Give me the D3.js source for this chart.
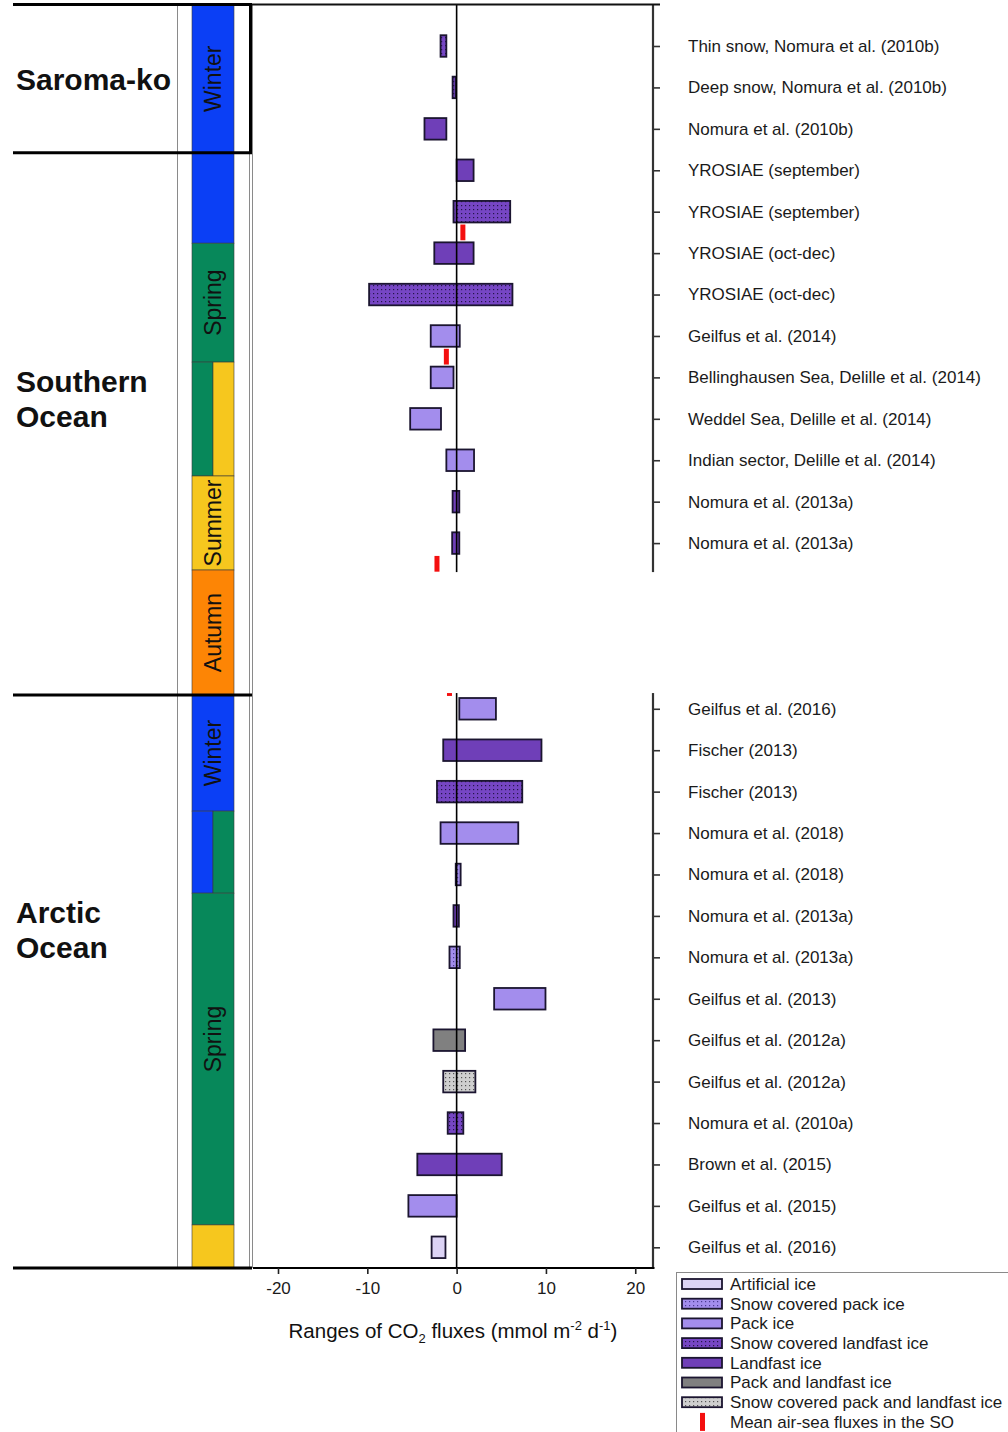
<!DOCTYPE html>
<html>
<head>
<meta charset="utf-8">
<script src="https://cdn.jsdelivr.net/npm/d3@7"></script>
<style>
  body { margin: 0; background: #fff; }
  svg { font-family: "Liberation Sans", Arial, sans-serif; }
</style>
</head>
<body>
<svg id="chart" width="1008" height="1432"></svg>
<script>
// studies, one per row (slot); slots 13-15 are the hidden autumn gap
const studyLabels = [
  "Thin snow, Nomura et al. (2010b)", "Deep snow, Nomura et al. (2010b)", "Nomura et al. (2010b)",
  "YROSIAE (september)", "YROSIAE (september)", "YROSIAE (oct-dec)", "YROSIAE (oct-dec)",
  "Geilfus et al. (2014)", "Bellinghausen Sea, Delille et al. (2014)", "Weddel Sea, Delille et al. (2014)",
  "Indian sector, Delille et al. (2014)", "Nomura et al. (2013a)", "Nomura et al. (2013a)",
  "Geilfus et al. (2016)", "Fischer (2013)", "Fischer (2013)", "Nomura et al. (2018)", "Nomura et al. (2018)",
  "Nomura et al. (2013a)", "Nomura et al. (2013a)", "Geilfus et al. (2013)", "Geilfus et al. (2012a)",
  "Geilfus et al. (2012a)", "Nomura et al. (2010a)", "Brown et al. (2015)", "Geilfus et al. (2015)",
  "Geilfus et al. (2016)"
];
const studySlots = [0, 1, 2, 3, 4, 5, 6, 7, 8, 9, 10, 11, 12,
  16, 17, 18, 19, 20, 21, 22, 23, 24, 25, 26, 27, 28, 29];
const fluxMin = [-1.8, -0.45, -3.6, 0, -0.35, -2.5, -9.8, -2.9, -2.9, -5.2, -1.15, -0.45, -0.5,
  0.3, -1.5, -2.2, -1.8, -0.1, -0.35, -0.8, 4.2, -2.6, -1.5, -1.0, -4.4, -5.4, -2.8];
const fluxMax = [-1.15, -0.1, -1.15, 1.9, 6.0, 1.9, 6.25, 0.35, -0.35, -1.75, 1.95, 0.3, 0.3,
  4.4, 9.5, 7.35, 6.9, 0.45, 0.25, 0.35, 9.95, 0.95, 2.1, 0.75, 5.05, 0, -1.25];
const iceType = ["scl", "scl", "l", "l", "scl", "l", "scl", "p", "p", "p", "p", "l", "l",
  "p", "l", "scl", "p", "scp", "l", "scp", "p", "pl", "scpl", "scl", "l", "p", "a"];

// mean air-sea fluxes in the Southern Ocean
const meanSlots = [4.5, 7.5, 12.5, 15.5];
const meanFlux = [0.7, -1.15, -2.2, -0.8];

// legend
const legendKeys = ["a", "scp", "p", "scl", "l", "pl", "scpl", "mean"];
const legendNames = ["Artificial ice", "Snow covered pack ice", "Pack ice", "Snow covered landfast ice",
  "Landfast ice", "Pack and landfast ice", "Snow covered pack and landfast ice", "Mean air-sea fluxes in the SO"];

// seasons along the slot axis
const seasonNames = ["Winter", "Winter", "Spring", "Spring", "Summer", "Summer", "Autumn",
  "Winter", "Winter", "Spring", "Spring", "Summer"];
const seasonFrom = [-1, 2.58, 4.76, 7.63, 7.63, 10.38, 12.65, 15.67, 18.47, 18.47, 20.45, 28.46];
const seasonTo = [2.58, 4.76, 7.63, 10.38, 10.38, 12.65, 15.67, 18.47, 20.45, 20.45, 28.46, 29.5];
const seasonPart = ["full", "full", "full", "left", "right", "full", "full", "full", "left", "right", "full", "full"];
const seasonLabelled = [true, false, true, false, false, true, true, true, false, false, true, false];

// regions
const regionNames = [["Saroma-ko"], ["Southern", "Ocean"], ["Arctic", "Ocean"]];
const regionBounds = [-1, 2.58, 15.67, 29.5];

const fills = {
  a: "#dcd3f5", scp: "#a38ded", p: "#a38ded", scl: "#7646c4", l: "#6f3fb8",
  pl: "#808080", scpl: "#cfcfcf"
};
const dotted = { scp: "#4b3a92", scl: "#24154a", scpl: "#555" };
const seasonColor = { Winter: "#0b3ff5", Spring: "#07885a", Summer: "#f6c71e", Autumn: "#fd8505" };

const svg = d3.select("#chart");

// patterns for snow covered types
const defs = svg.append("defs");
Object.keys(dotted).forEach(k => {
  const p = defs.append("pattern").attr("id", "pat-" + k)
    .attr("width", 4).attr("height", 4).attr("patternUnits", "userSpaceOnUse");
  p.append("rect").attr("width", 4).attr("height", 4).attr("fill", fills[k]);
  p.append("rect").attr("x", 1).attr("y", 1).attr("width", 1.2).attr("height", 1.2).attr("fill", dotted[k]);
});
const fillOf = k => dotted[k] ? "url(#pat-" + k + ")" : fills[k];

const x = d3.scaleLinear().domain([-22.8, 22.1]).range([253, 654]);
const y = d3.scaleLinear().domain([0, 29]).range([46, 1247.3]);
const barHalf = 0.26;

// season column
const colLeft = 192, colRight = 234, colMid = 213;
const seasons = seasonNames.map((s, i) => ({
  s, from: seasonFrom[i], to: seasonTo[i], part: seasonPart[i], lab: seasonLabelled[i]
}));
svg.append("g").selectAll("rect").data(seasons).enter().append("rect")
  .attr("x", d => d.part === "right" ? colMid : colLeft)
  .attr("width", d => d.part === "full" ? colRight - colLeft : colMid - colLeft)
  .attr("y", d => y(d.from))
  .attr("height", d => y(d.to) - y(d.from))
  .attr("fill", d => seasonColor[d.s])
  .attr("stroke", "#3a3a3a").attr("stroke-width", 0.6);
svg.append("g").selectAll("text").data(seasons.filter(d => d.lab)).enter().append("text")
  .attr("transform", d => {
    // the arctic spring label sits a bit above the middle of its block
    const mid = (y(d.from) + y(d.to)) / 2 - (d.to - d.from > 6 ? 20 : 0);
    return `translate(${colMid},${mid}) rotate(-90)`;
  })
  .attr("text-anchor", "middle").attr("dy", "0.36em")
  .attr("font-size", 23).attr("fill", "#111")
  .text(d => d.s);

// thin grey frame lines of the season column
[177.5, 249.5, 252.5].forEach(px => {
  svg.append("line").attr("x1", px).attr("x2", px)
    .attr("y1", y(-1)).attr("y2", y(29.5))
    .attr("stroke", "#8a8a8a").attr("stroke-width", 1);
});

// bars
const rows = studyLabels.map((lab, i) => ({
  lab, slot: studySlots[i], lo: fluxMin[i], hi: fluxMax[i], t: iceType[i]
}));
svg.append("g").selectAll("rect").data(rows).enter().append("rect")
  .attr("x", d => x(d.lo))
  .attr("width", d => Math.max(2, x(d.hi) - x(d.lo)))
  .attr("y", d => y(d.slot - barHalf))
  .attr("height", d => y(d.slot + barHalf) - y(d.slot - barHalf))
  .attr("fill", d => fillOf(d.t))
  .attr("stroke", "#1b1530").attr("stroke-width", 1.8);

// mean air-sea flux marks
svg.append("g").selectAll("rect").data(meanSlots.map((s, i) => ({ s, v: meanFlux[i] }))).enter()
  .append("rect")
  .attr("x", d => x(d.v) - 2.5).attr("width", 5)
  .attr("y", d => y(d.s - 0.19)).attr("height", d => y(d.s + 0.19) - y(d.s - 0.19))
  .attr("fill", "#f40f0f");

// zero line
svg.append("line").attr("x1", x(0)).attr("x2", x(0))
  .attr("y1", y(-1)).attr("y2", y(29.5))
  .attr("stroke", "#000").attr("stroke-width", 1.6);

// right axis with study names
const labelBySlot = new Map(rows.map(d => [d.slot, d.lab]));
const right = svg.append("g").attr("transform", `translate(653,0)`)
  .call(d3.axisRight(y).tickValues(studySlots).tickSize(7).tickPadding(28)
    .tickFormat(s => labelBySlot.get(s)));
right.select(".domain").attr("d", `M0,${y(-1)}V${y(29.5)}`).attr("stroke", "#333").attr("stroke-width", 2.2);
right.selectAll(".tick line").attr("stroke", "#333").attr("stroke-width", 1.6);
right.selectAll(".tick text").attr("font-size", 17).attr("fill", "#1a1a1a")
  .attr("font-family", "Liberation Sans, Arial, sans-serif");

// top frame line over the plot
svg.append("line").attr("x1", 250).attr("x2", 660).attr("y1", y(-1)).attr("y2", y(-1))
  .attr("stroke", "#111").attr("stroke-width", 2);

// hide the autumn break of the plot
svg.append("rect").attr("x", 254).attr("width", 420)
  .attr("y", y(12.7)).attr("height", y(15.62) - y(12.7)).attr("fill", "#fff");

// bottom axis
const bottom = svg.append("g").attr("transform", `translate(0,${y(29.5)})`)
  .call(d3.axisBottom(x).tickValues([-20, -10, 0, 10, 20]).tickSize(6).tickPadding(8)
    .tickFormat(d => String(d)));
bottom.select(".domain").attr("d", `M253,0H654.5`).attr("stroke", "#000").attr("stroke-width", 2);
bottom.selectAll(".tick line").attr("stroke", "#222").attr("stroke-width", 1.6);
bottom.selectAll(".tick text").attr("font-size", 17).attr("fill", "#1a1a1a")
  .attr("font-family", "Liberation Sans, Arial, sans-serif");

const xt = svg.append("text").attr("x", 453).attr("y", 1338).attr("text-anchor", "middle")
  .attr("font-size", 20.5).attr("fill", "#111");
xt.append("tspan").text("Ranges of CO");
xt.append("tspan").attr("font-size", 13).attr("dy", 5).text("2");
xt.append("tspan").attr("dy", -5).text(" fluxes (mmol m");
xt.append("tspan").attr("font-size", 13).attr("dy", -8).text("-2");
xt.append("tspan").attr("dy", 8).text(" d");
xt.append("tspan").attr("font-size", 13).attr("dy", -8).text("-1");
xt.append("tspan").attr("dy", 8).text(")");

// region separators and names
regionBounds.forEach(b => {
  svg.append("line").attr("x1", 13).attr("x2", 252).attr("y1", y(b)).attr("y2", y(b))
    .attr("stroke", "#000").attr("stroke-width", 3);
});
svg.append("line").attr("x1", 250.5).attr("x2", 250.5).attr("y1", y(-1)).attr("y2", y(2.58))
  .attr("stroke", "#000").attr("stroke-width", 3);

const regionCentres = [79, 398, 929];
regionNames.forEach((lines, i) => {
  const t = svg.append("text").attr("x", 16).attr("font-size", 30).attr("font-weight", "bold").attr("fill", "#111");
  lines.forEach((ln, j) => {
    t.append("tspan").attr("x", 16)
      .attr("y", regionCentres[i] + 11 + (j - (lines.length - 1) / 2) * 35)
      .text(ln);
  });
});

// legend
const lg = svg.append("g").attr("transform", "translate(676,1272)");
lg.append("rect").attr("x", 0.5).attr("y", 0.5).attr("width", 340).attr("height", 170)
  .attr("fill", "#fff").attr("stroke", "#8a8a8a");
legendKeys.forEach((k, i) => {
  const cy = 12 + i * 19.7;
  if (k === "mean") {
    lg.append("rect").attr("x", 24).attr("y", cy - 9).attr("width", 5).attr("height", 18).attr("fill", "#f40f0f");
  } else {
    lg.append("rect").attr("x", 6).attr("y", cy - 5).attr("width", 40).attr("height", 10)
      .attr("fill", fillOf(k)).attr("stroke", "#1b1530").attr("stroke-width", 1.8);
  }
  lg.append("text").attr("x", 54).attr("y", cy).attr("dy", "0.35em")
    .attr("font-size", 17).attr("fill", "#1a1a1a").text(legendNames[i]);
});
</script>
</body>
</html>
